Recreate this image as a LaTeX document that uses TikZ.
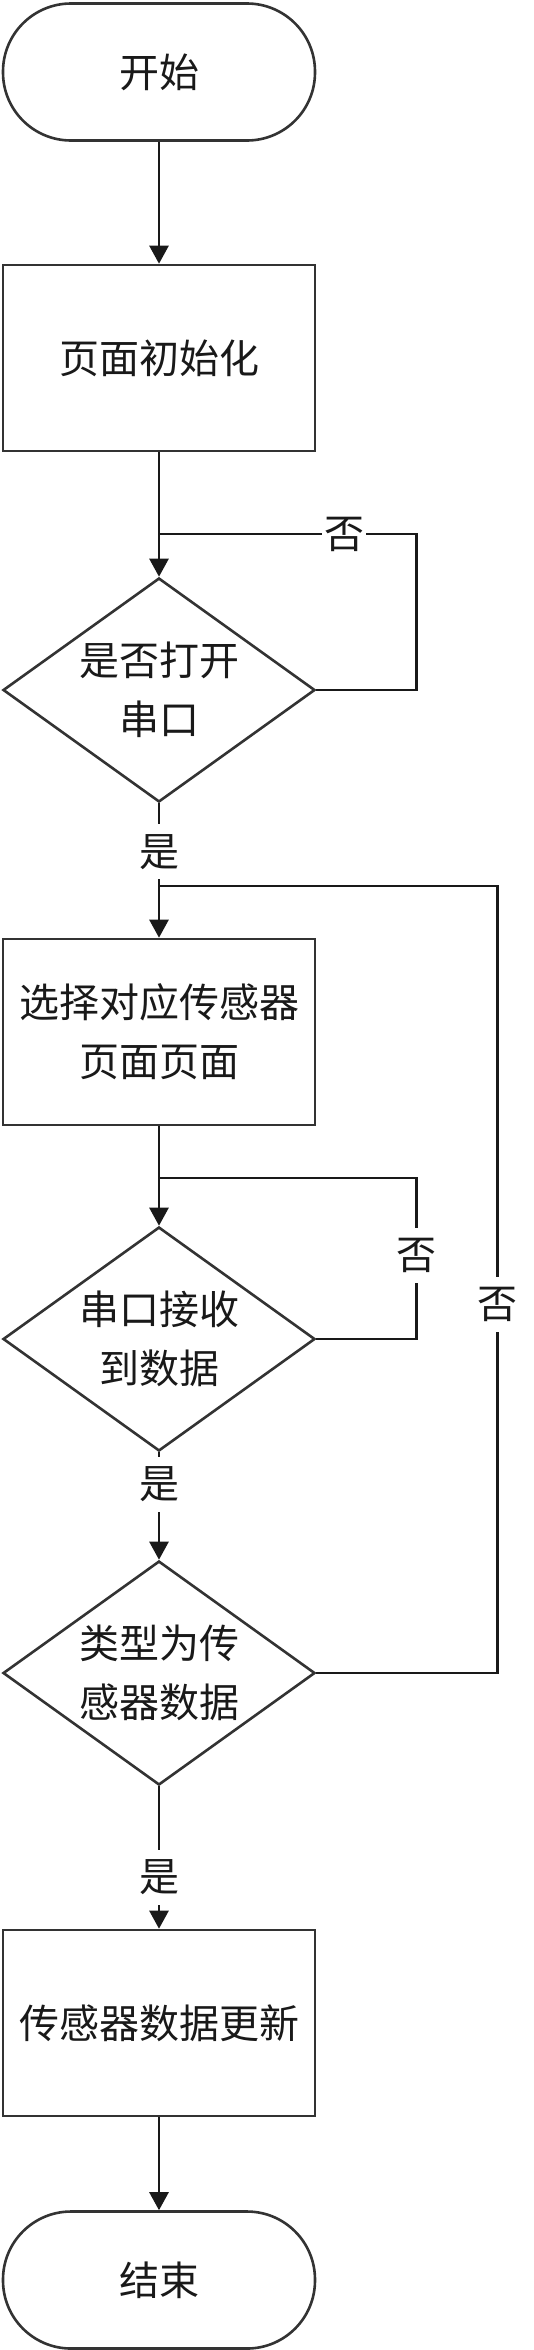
\documentclass[tikz,border=0pt]{standalone}
\usepackage{fontspec}
\newfontfamily\cjk{Noto Sans CJK SC}
\usetikzlibrary{shapes.geometric, arrows.meta}

\begin{document}
\begin{tikzpicture}[x=0.5pt, y=-0.5pt,
    every node/.style={font=\cjk\fontsize{20}{29.5}\selectfont, text=black!90},
    term/.style={draw=black!80, line width=1.3pt, rounded corners=34pt, minimum width=156pt, minimum height=68.5pt, inner sep=0pt},
    proc/.style={draw=black!80, line width=1.3pt, minimum width=156pt, minimum height=93pt, align=center, inner sep=0pt},
    decision/.style={draw=black!80, line width=1.3pt, diamond, aspect=1.39, minimum width=156pt, minimum height=112pt, align=center, inner sep=0pt},
    flow/.style={draw=black!90, line width=1.3pt, -{Triangle[length=9pt, width=9.5pt]}},
    loopline/.style={draw=black!90, line width=1.3pt},
    lbl/.style={fill=white, inner xsep=1pt, inner ysep=5pt}]
        \useasboundingbox (0,0) rectangle (534,2350);

        \node[term] (start) at (159,72) {开始};
        \node[proc] (init) at (159,358) {页面初始化};
        \node[decision] (port) at (159,690) {是否打开\\串口};
        \node[proc] (select) at (159,1032) {选择对应传感器\\页面页面};
        \node[decision] (recv) at (159,1339) {串口接收\\到数据};
        \node[decision] (type) at (159,1673) {类型为传\\感器数据};
        \node[proc] (update) at (159,2023) {传感器数据更新};
        \node[term] (stop) at (159,2280) {结束};

        \coordinate (j1) at (159,534);
        \coordinate (j3) at (159,886);
        \coordinate (j2) at (159,1178);

        \draw[flow] (start) -- (init);
        \draw[flow] (init) -- (port);
        \draw[flow] (port) -- node[lbl, pos=.36] {是} (select);
        \draw[flow] (select) -- (recv);
        \draw[flow] (recv) -- node[lbl, pos=.3] {是} (type);
        \draw[flow] (type) -- node[lbl, pos=.64] {是} (update);
        \draw[flow] (update) -- (stop);

        % back loops
        \draw[loopline] (port.east) -- ++(100,0) |- node[lbl, pos=.64] {否} (j1);
        \draw[loopline] (recv.east) -- ++(100,0) |- node[lbl, pos=.26] {否} (j2);
        \draw[loopline] (type.east) -- ++(181,0) |- node[lbl, pos=.234] {否} (j3);
      \end{tikzpicture}
\end{document}
